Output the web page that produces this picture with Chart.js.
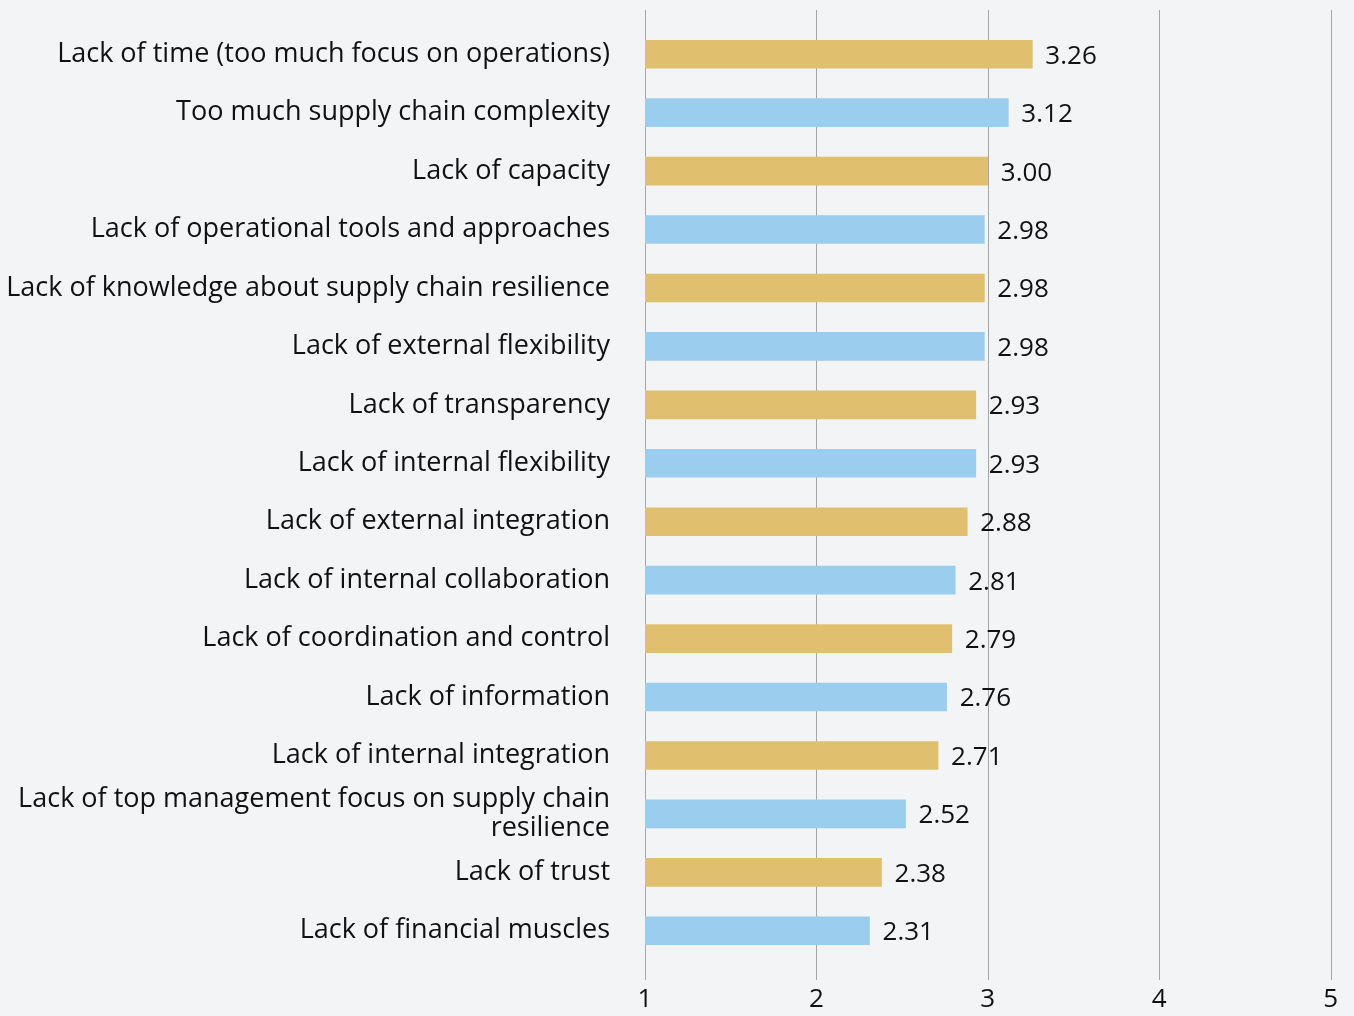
<!DOCTYPE html>
<html>
<head>
<meta charset="utf-8">
<script src="https://cdn.jsdelivr.net/npm/chart.js@4/dist/chart.umd.min.js"></script>
<style>
  html, body { margin: 0; padding: 0; background: #f2f4f6; }
  #wrap { width: 1354px; height: 1016px; }
</style>
</head>
<body>
<div id="wrap"><canvas id="grafico"></canvas></div>
<script>
// dados
const categorias = [
  'Lack of time (too much focus on operations)',
  'Too much supply chain complexity',
  'Lack of capacity',
  'Lack of operational tools and approaches',
  'Lack of knowledge about supply chain resilience',
  'Lack of external flexibility',
  'Lack of transparency',
  'Lack of internal flexibility',
  'Lack of external integration',
  'Lack of internal collaboration',
  'Lack of coordination and control',
  'Lack of information',
  'Lack of internal integration',
  ['Lack of top management focus on supply chain', 'resilience'],
  'Lack of trust',
  'Lack of financial muscles'
];
const valores = [3.26, 3.12, 3.00, 2.98, 2.98, 2.98, 2.93, 2.93, 2.88, 2.81, 2.79, 2.76, 2.71, 2.52, 2.38, 2.31];
const rotulosValores = ['3.26', '3.12', '3.00', '2.98', '2.98', '2.98', '2.93', '2.93', '2.88', '2.81', '2.79', '2.76', '2.71', '2.52', '2.38', '2.31'];
const ticksX = [1, 2, 3, 4, 5];

const DOURADO = '#e0bf6e';
const AZUL = '#9bcdee';
const fonte = '"Open Sans", "Noto Sans", sans-serif';

// linhas verticais da grade, mais longas que a area do grafico
const gradePlugin = {
  id: 'grade',
  beforeDatasetsDraw(chart) {
    const ctx = chart.ctx;
    const x = chart.scales.x;
    const area = chart.chartArea;
    ctx.save();
    ctx.strokeStyle = '#a6a6a6';
    ctx.lineWidth = 1;
    ticksX.forEach((t) => {
      const px = Math.round(x.getPixelForValue(t)) + 0.5;
      ctx.beginPath();
      ctx.moveTo(px, area.top - 15);
      ctx.lineTo(px, area.bottom + 20);
      ctx.stroke();
    });
    ctx.restore();
  }
};

// rotulos com o valor ao lado de cada barra
const rotuloPlugin = {
  id: 'rotulos',
  afterDatasetsDraw(chart) {
    const ctx = chart.ctx;
    const meta = chart.getDatasetMeta(0);
    ctx.save();
    ctx.font = '26px ' + fonte;
    ctx.fillStyle = '#111';
    ctx.textAlign = 'left';
    ctx.textBaseline = 'middle';
    meta.data.forEach((bar, i) => {
      ctx.fillText(rotulosValores[i], bar.x + 13, bar.y + 2);
    });
    ctx.restore();
  }
};

new Chart(document.getElementById('grafico'), {
  type: 'bar',
  data: {
    labels: categorias,
    datasets: [{
      data: valores,
      backgroundColor: valores.map((v, i) => i % 2 === 0 ? DOURADO : AZUL),
      barThickness: 28,
      borderWidth: 0
    }]
  },
  options: {
    indexAxis: 'y',
    responsive: true,
    maintainAspectRatio: false,
    animation: false,
    layout: { padding: { top: 25, right: 10, bottom: 0, left: 0 } },
    plugins: {
      legend: { display: false },
      tooltip: { enabled: false }
    },
    scales: {
      x: {
        min: 1,
        max: 5,
        afterBuildTicks(scale) { scale.ticks = ticksX.map((v) => ({ value: v })); },
        grid: { display: false },
        border: { display: false },
        ticks: {
          color: '#111',
          padding: 16,
          font: { family: fonte, size: 26 }
        },
        afterFit(scale) { scale.height = 56; }
      },
      y: {
        grid: { display: false, drawTicks: false },
        border: { display: false },
        afterFit(scale) {
          scale.width = 645;
          scale.paddingTop = 0;
          scale.paddingBottom = 0;
        },
        ticks: {
          color: '#111',
          padding: 35,
          autoSkip: false,
          font: { family: fonte, size: 27, lineHeight: 1.05 }
        }
      }
    }
  },
  plugins: [gradePlugin, rotuloPlugin]
});
</script>
</body>
</html>
